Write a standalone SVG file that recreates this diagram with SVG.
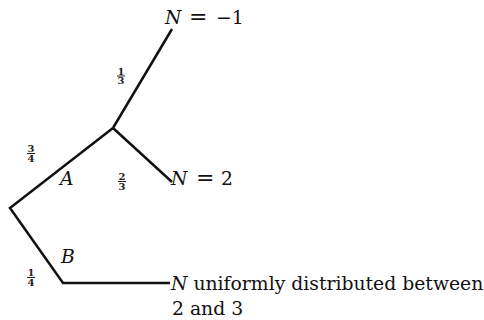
<svg xmlns="http://www.w3.org/2000/svg" width="484" height="320" viewBox="0 0 484 320">
<style>
.t{font-family:"DejaVu Serif","Liberation Serif",serif;font-size:18.8px;fill:#111}
.i{font-style:italic}
.f{font-family:"DejaVu Serif","Liberation Serif",serif;font-size:10px;font-weight:bold;fill:#222;text-anchor:middle}
.bar{stroke:#222;stroke-width:1}
.c{stroke:#111;stroke-width:2.5;fill:none;stroke-linejoin:miter}
</style>
<g id="connectors">
<path class="c" d="M172,29 L113,128"/>
<path class="c" d="M113,128 L10,208 L63,283 L170,283"/>
<path class="c" d="M113,128 L172,182"/>
</g>
<g id="node-n-minus1">
<text class="t" y="24"><tspan class="i" x="165">N</tspan><tspan x="189" style="font-size:22px">=</tspan><tspan x="216">−1</tspan></text>
</g>
<g id="node-n2">
<text class="t" y="185"><tspan class="i" x="171">N</tspan><tspan x="196" style="font-size:22px">=</tspan><tspan x="221">2</tspan></text>
</g>
<g id="node-uniform">
<text class="t" y="290"><tspan class="i" x="171">N</tspan><tspan> uniformly distributed between</tspan></text>
<text class="t" x="172" y="315">2 and 3</text>
</g>
<g id="label-A"><text class="t i" x="60" y="185">A</text></g>
<g id="label-B"><text class="t i" x="61" y="263">B</text></g>
<g id="frac-1-3">
<text class="f" x="121" y="74.5">1</text>
<line class="bar" x1="117" y1="76" x2="125" y2="76"/>
<text class="f" x="121" y="84">3</text>
</g>
<g id="frac-3-4">
<text class="f" x="31" y="152">3</text>
<line class="bar" x1="27" y1="153.5" x2="35" y2="153.5"/>
<text class="f" x="31" y="161.5">4</text>
</g>
<g id="frac-2-3">
<text class="f" x="122" y="180">2</text>
<line class="bar" x1="118" y1="181.5" x2="126" y2="181.5"/>
<text class="f" x="122" y="189.5">3</text>
</g>
<g id="frac-1-4">
<text class="f" x="31" y="276">1</text>
<line class="bar" x1="27" y1="277.5" x2="35" y2="277.5"/>
<text class="f" x="31" y="285.5">4</text>
</g>
</svg>
